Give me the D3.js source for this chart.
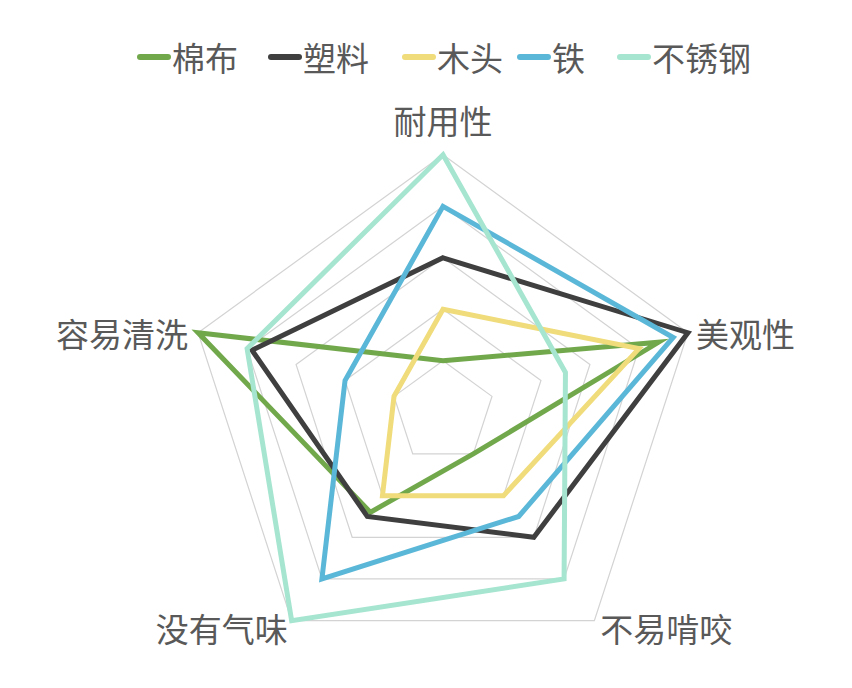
<!DOCTYPE html>
<html>
<head>
<meta charset="utf-8">
<script src="https://cdn.jsdelivr.net/npm/d3@7"></script>
<style>
  html, body { margin: 0; padding: 0; background: #ffffff; }
  svg { display: block; }
  text { font-family: "Noto Sans CJK SC", "Noto Sans", sans-serif; fill: #595959; }
</style>
</head>
<body>
<svg id="chart" width="852" height="688"></svg>
<script>
// ---- data ----
const axes = ["耐用性", "美观性", "不易啃咬", "没有气味", "容易清洗"];
const seriesNames = ["棉布", "塑料", "木头", "铁", "不锈钢"];
const cotton    = [1, 4.4, 1, 2.4, 5];
const plastic   = [3, 5, 3, 2.5, 3.9];
const wood      = [2, 4, 2, 2, 1];
const iron      = [4, 4.7, 2.5, 4, 2];
const steel     = [5, 2.5, 4, 5, 4];
const gridLevels = [1, 2, 3, 4, 5];
const colors = ["#72A84C", "#3F3F3F", "#F0DC7A", "#5BB7D7", "#A6E5D0"];

const seriesValues = [cotton, plastic, wood, iron, steel];

// ---- layout ----
const svg = d3.select("#chart");
const cx = 443, cy = 412.3, R = 257.5;
const r = d3.scaleLinear().domain([0, 5]).range([0, R]);
const angle = d3.scalePoint().domain(axes).range([0, 2 * Math.PI * (axes.length - 1) / axes.length]);

const g = svg.append("g").attr("transform", `translate(${cx},${cy})`);

// grid pentagons
const gridLine = d3.lineRadial()
  .angle(d => angle(d.axis))
  .radius(d => r(d.v))
  .curve(d3.curveLinearClosed);

g.selectAll("path.grid")
  .data(gridLevels)
  .join("path")
  .attr("class", "grid")
  .attr("d", lv => gridLine(axes.map(a => ({ axis: a, v: lv }))))
  .attr("fill", "none")
  .attr("stroke", "#d3d3d3")
  .attr("stroke-width", 1.2);

// series
const seriesLine = d3.lineRadial()
  .angle((d, i) => angle(axes[i]))
  .radius(d => r(d))
  .curve(d3.curveLinearClosed);

g.selectAll("path.series")
  .data(seriesValues)
  .join("path")
  .attr("class", "series")
  .attr("d", d => seriesLine(d))
  .attr("fill", "none")
  .attr("stroke", (d, i) => colors[i])
  .attr("stroke-width", 5)
  .attr("stroke-linejoin", "miter")
  .attr("stroke-miterlimit", 10);

// axis labels
const labelCfg = {
  "耐用性":  { anchor: "middle", dx: 0,   dy: -35 },
  "美观性":  { anchor: "start",  dx: 8,   dy: 0 },
  "不易啃咬": { anchor: "start",  dx: 6,   dy: 7 },
  "没有气味": { anchor: "end",    dx: -4,  dy: 7 },
  "容易清洗": { anchor: "end",    dx: -10, dy: 0 }
};
g.selectAll("text.axis")
  .data(axes)
  .join("text")
  .attr("class", "axis")
  .attr("x", a => r(5) * Math.sin(angle(a)) + labelCfg[a].dx)
  .attr("y", a => -r(5) * Math.cos(angle(a)) + labelCfg[a].dy)
  .attr("text-anchor", a => labelCfg[a].anchor)
  .attr("dominant-baseline", "central")
  .attr("font-size", 33)
  .text(a => a);

// legend
const legendX = [137, 268, 402, 517, 617];
const legendY = 57;
const leg = svg.append("g");
const items = leg.selectAll("g.item")
  .data(seriesNames)
  .join("g")
  .attr("class", "item")
  .attr("transform", (d, i) => `translate(${legendX[i]},${legendY})`);
items.append("line")
  .attr("x1", 3).attr("x2", 31).attr("y1", 0).attr("y2", 0)
  .attr("stroke", (d, i) => colors[i])
  .attr("stroke-width", 6)
  .attr("stroke-linecap", "round");
items.append("text")
  .attr("x", 35)
  .attr("y", 0)
  .attr("dominant-baseline", "central")
  .attr("font-size", 33)
  .text(d => d);
</script>
</body>
</html>
